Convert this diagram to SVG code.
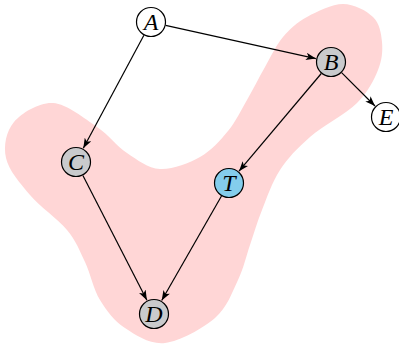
<svg xmlns="http://www.w3.org/2000/svg" width="399" height="345" viewBox="0 0 399 345">
<style>
.node circle{stroke:#000;stroke-width:1.2}
.white{fill:#fff}
.gray{fill:#c9cacc}
.blue{fill:#84cdec}
.lbl{font-family:"Liberation Serif","DejaVu Serif",serif;font-style:italic;font-size:24px;fill:#000;text-anchor:middle;dominant-baseline:central}
.edge{stroke:#000;stroke-width:1.2;fill:none;marker-end:url(#arr)}
</style>
<defs>
<marker id="arr" markerUnits="userSpaceOnUse" markerWidth="11" markerHeight="8" refX="10" refY="4" orient="auto">
<path d="M0,0.3 L10,4 L0,7.7 L2.5,4 Z" fill="#000"/>
</marker>
</defs>
<g id="region">
<path fill="#ffd6d6" d="M53,103 C66.8,103.8 84.7,118.7 97,127 S116.5,146 127,153 S147.8,168.3 160,169 S188.7,163.3 200,157 S220.2,140.5 228,131 S240.8,110.7 247,100 S259,77.5 265,67 S276,45.3 283,37 S297,22.5 307,17 S332,4 343,4 S366.5,10.7 373,17 S381.2,33.2 382,42 S382.2,59.8 378,70 S368.3,91.8 357,103 S322.8,125.8 310,137 S288,157.8 280,170 S267,197.5 262,210 S254,233.3 250,245 S243.8,267.8 238,280 S227.2,307.5 215,318 S180,341.3 165,343 S135.8,335.2 125,328 S106.7,311 100,300 S90.5,273.7 85,262 S76.2,241.2 67,230 S40.2,207 30,195 S8.7,170.2 6,158 S6.2,131.2 14,122 S39.2,102.2 53,103 Z"/>
</g>
<g id="edges">
<line class="edge" x1="165.6" y1="25.3" x2="315.9" y2="58.6"/>
<line class="edge" x1="143.9" y1="35.2" x2="83.3" y2="148.3"/>
<line class="edge" x1="321.3" y1="73.5" x2="239" y2="171.2"/>
<line class="edge" x1="341.6" y1="72.6" x2="375" y2="106"/>
<line class="edge" x1="82.9" y1="175.4" x2="146.9" y2="300.2"/>
<line class="edge" x1="221.5" y1="196" x2="161.7" y2="300.5"/>
</g>
<g id="A" class="node"><circle class="white" cx="151" cy="22" r="14.5"/><text class="lbl" x="151" y="22">A</text></g>
<g id="B" class="node"><circle class="gray" cx="331" cy="62" r="14.5"/><text class="lbl" x="331" y="62">B</text></g>
<g id="E" class="node"><circle class="white" cx="386" cy="117" r="14.5"/><text class="lbl" x="386" y="117">E</text></g>
<g id="C" class="node"><circle class="gray" cx="76" cy="162" r="14.5"/><text class="lbl" x="76" y="162">C</text></g>
<g id="T" class="node"><circle class="blue" cx="229" cy="183" r="14.5"/><text class="lbl" x="229" y="183">T</text></g>
<g id="D" class="node"><circle class="gray" cx="154" cy="314" r="14.5"/><text class="lbl" x="154" y="314">D</text></g>
</svg>
